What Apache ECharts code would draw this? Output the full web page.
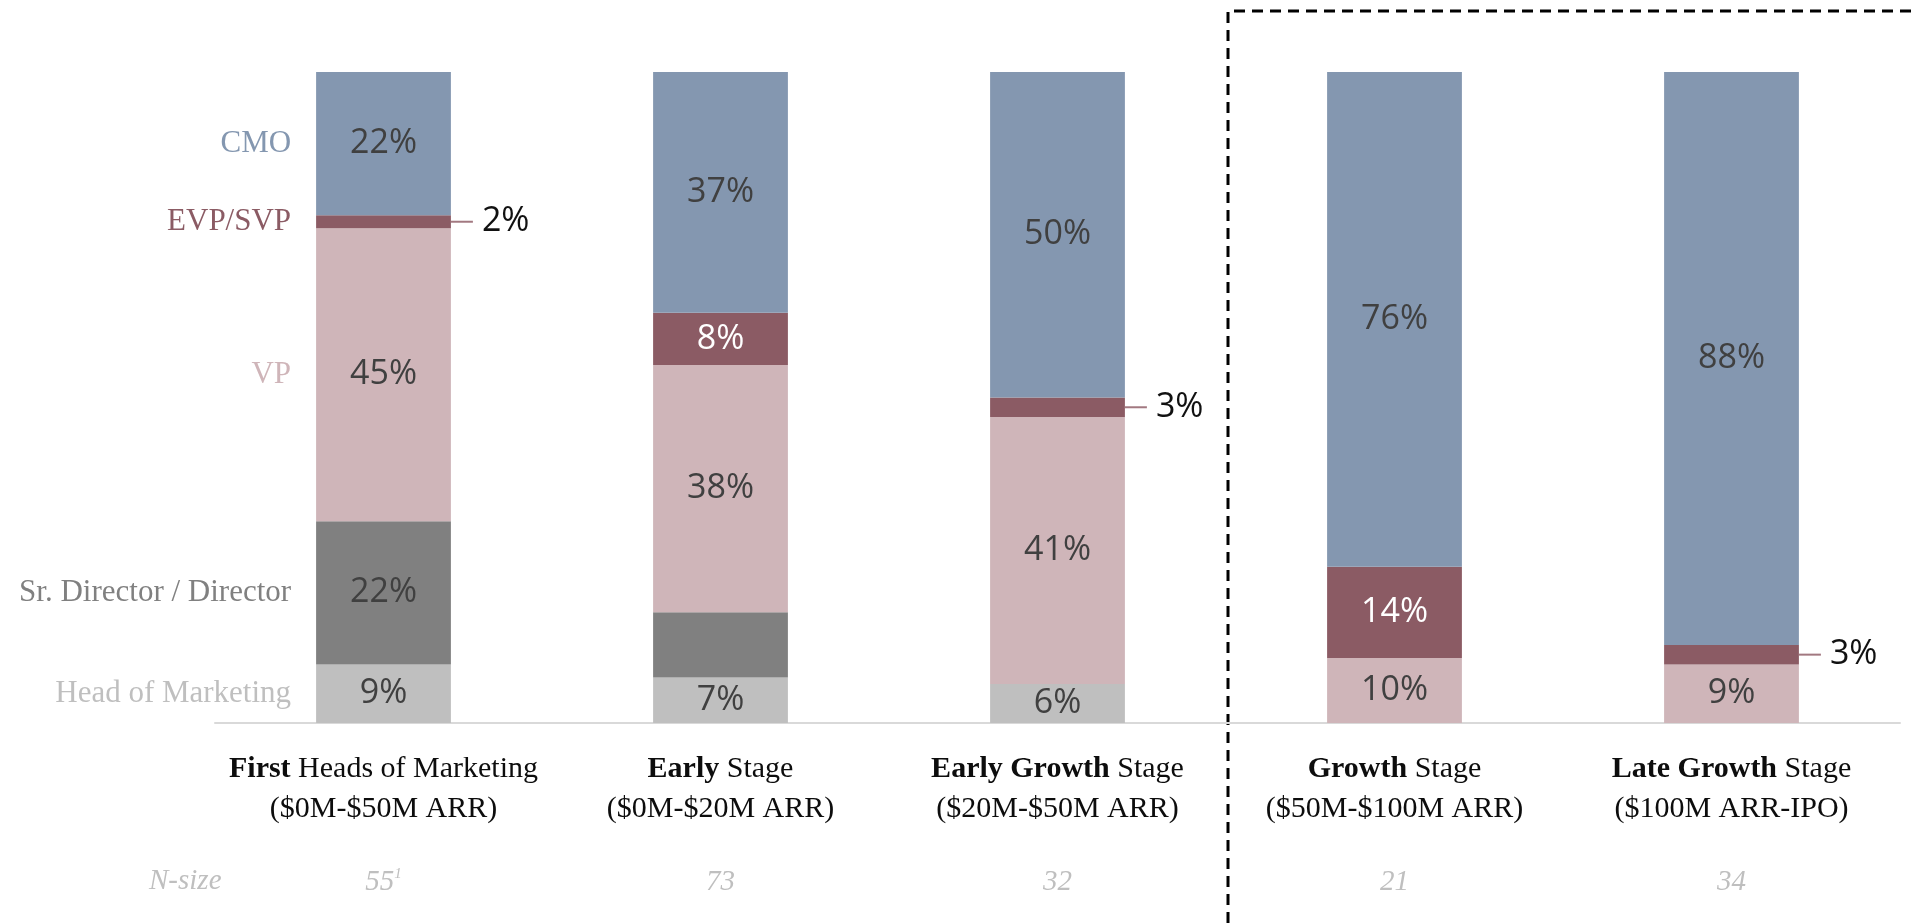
<!DOCTYPE html>
<html>
<head>
<meta charset="utf-8">
<title>Marketing leader titles by company stage</title>
<script src="https://cdn.jsdelivr.net/npm/echarts@6/dist/echarts.min.js"></script>
<style>
  html, body { margin: 0; padding: 0; background: #ffffff; }
  #chart { width: 1911px; height: 923px; }
</style>
</head>
<body>
<div id="chart"></div>
<script>
// Company stages (bold part, rest of the title, ARR range)
const stageBold  = ['First', 'Early', 'Early Growth', 'Growth', 'Late Growth'];
const stageRest  = ['Heads of Marketing', 'Stage', 'Stage', 'Stage', 'Stage'];
const stageRange = ['($0M-$50M ARR)', '($0M-$20M ARR)', '($20M-$50M ARR)', '($50M-$100M ARR)', '($100M ARR-IPO)'];
const categories = stageBold.map((b, i) => b + ' ' + stageRest[i]);

// Sample sizes per stage (with footnote marks)
const nSizes = ['55', '73', '32', '21', '34'];
const nNotes = ['1', '', '', '', ''];

// Share of each title per stage, in %, stacked bottom to top
const headOfMarketing = [9, 7, 6, 0, 0];
const srDirector      = [22, 10, 0, 0, 0];
const vp              = [45, 38, 41, 10, 9];
const evpSvp          = [2, 8, 3, 14, 3];
const cmo             = [22, 37, 50, 76, 88];

const roles = [
  { name: 'Head of Marketing',       values: headOfMarketing, color: '#BFBFBF', text: '#404040', hideLabelAt: [] },
  { name: 'Sr. Director / Director', values: srDirector,      color: '#808080', text: '#404040', hideLabelAt: [1] },
  { name: 'VP',                      values: vp,              color: '#CFB5B9', text: '#404040', hideLabelAt: [] },
  { name: 'EVP/SVP',                 values: evpSvp,          color: '#8B5B64', text: '#FFFFFF', hideLabelAt: [] },
  { name: 'CMO',                     values: cmo,             color: '#8497B0', text: '#404040', hideLabelAt: [] }
];

const SERIF = '"Liberation Serif", "DejaVu Serif", serif';
const SANS = '"Open Sans", "Noto Sans", sans-serif';

// Thin segments get their value outside the bar with a short leader line
function outsideLabel(v, lineColor) {
  return {
    show: true,
    position: 'right',
    distance: 0,
    formatter: '{l|}{v|' + v + '%}',
    rich: {
      l: { width: 22, height: 2, backgroundColor: lineColor, verticalAlign: 'middle' },
      v: { fontFamily: SANS, fontSize: 34, color: '#111111', padding: [0, 0, 0, 9], verticalAlign: 'middle' }
    }
  };
}

const series = [];

roles.forEach(role => {
  series.push({
    name: role.name,
    type: 'bar',
    stack: 'share',
    barWidth: '40%',
    barGap: '-100%',
    silent: true,
    itemStyle: { color: role.color },
    label: {
      show: true,
      position: 'inside',
      fontFamily: SANS,
      fontSize: 34,
      color: role.text,
      formatter: p => p.value + '%'
    },
    data: role.values.map((v, i) => {
      if (!v) return '-';
      if (role.hideLabelAt.includes(i)) return { value: v, label: { show: false } };
      if (v < 5) return { value: v, label: outsideLabel(v, '#A27880') };
      return v;
    })
  });
});

// Role names to the left of the first bar, each centred on its segment
roles.forEach(role => {
  series.push({
    name: role.name + ' name',
    type: 'bar',
    stack: 'names',
    barWidth: '40%',
    barGap: '-100%',
    silent: true,
    itemStyle: { color: 'rgba(0,0,0,0)' },
    label: {
      show: true,
      position: 'left',
      distance: 25,
      fontFamily: SERIF,
      fontSize: 31,
      color: role.color,
      formatter: role.name
    },
    data: role.values.map((v, i) => (i === 0 ? v : '-'))
  });
});

const chart = echarts.init(document.getElementById('chart'), null, { renderer: 'canvas' });

chart.setOption({
  animation: false,
  backgroundColor: '#ffffff',
  grid: { left: 215, right: 11, top: 72, bottom: 200 },
  xAxis: [
    {
      type: 'category',
      data: categories,
      position: 'bottom',
      axisLine: { show: true, lineStyle: { color: '#D9D9D9', width: 2 } },
      axisTick: { show: false },
      axisLabel: {
        interval: 0,
        margin: 26,
        formatter: (val, idx) =>
          '{b|' + stageBold[idx] + '}{r| ' + stageRest[idx] + '}\n{r|' + stageRange[idx] + '}',
        rich: {
          b: { fontFamily: SERIF, fontSize: 30, fontWeight: 'bold', color: '#0D0D0D', lineHeight: 40 },
          r: { fontFamily: SERIF, fontSize: 30, color: '#0D0D0D', lineHeight: 40 }
        }
      }
    },
    {
      type: 'category',
      data: categories,
      position: 'bottom',
      offset: 0,
      axisLine: { show: false },
      axisTick: { show: false },
      axisLabel: {
        interval: 0,
        margin: 144,
        formatter: (val, idx) =>
          '{n|' + nSizes[idx] + '}' + (nNotes[idx] ? '{s|' + nNotes[idx] + '}' : ''),
        rich: {
          n: { fontFamily: SERIF, fontStyle: 'italic', fontSize: 29, color: '#BFBFBF', lineHeight: 30 },
          s: { fontFamily: SERIF, fontStyle: 'italic', fontSize: 15, color: '#BFBFBF', verticalAlign: 'top', lineHeight: 30 }
        }
      }
    }
  ],
  yAxis: { type: 'value', min: 0, max: 100, show: false, splitLine: { show: false } },
  series: series
});

// Dashed bracket separating the later stages, placed midway between the 3rd and 4th bars
const xLeft = chart.convertToPixel({ xAxisIndex: 0 }, categories[2]);
const xRight = chart.convertToPixel({ xAxisIndex: 0 }, categories[3]);
const xSplit = (xLeft + xRight) / 2 + 2;

chart.setOption({
  graphic: [
    {
      type: 'polyline',
      silent: true,
      shape: { points: [[xSplit, 923], [xSplit, 11], [1911, 11]] },
      style: { stroke: '#000000', lineWidth: 3, lineDash: [11, 7], fill: null }
    },
    {
      type: 'text',
      silent: true,
      left: 149,
      top: 867,
      style: {
        text: 'N-size',
        fontFamily: SERIF,
        fontStyle: 'italic',
        fontSize: 29,
        fill: '#BFBFBF'
      }
    }
  ]
});
</script>
</body>
</html>
